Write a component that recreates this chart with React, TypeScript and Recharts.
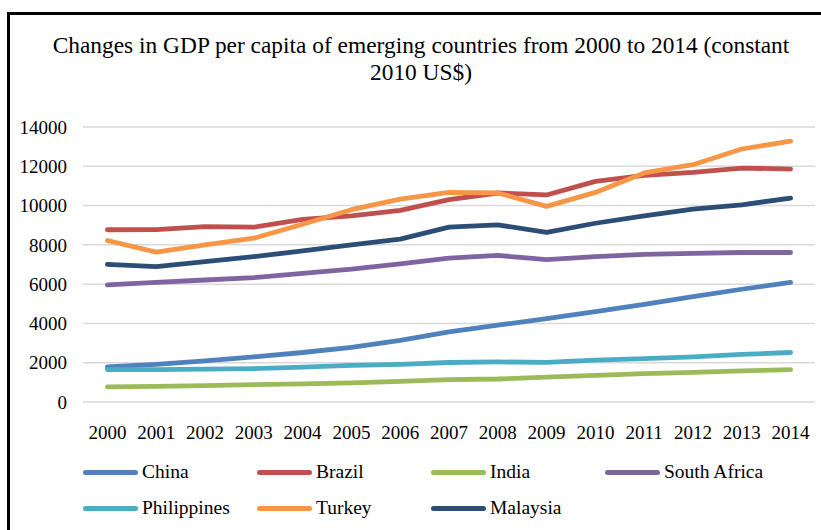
import React from "react";
import { LineChart, Line, XAxis, YAxis, CartesianGrid } from "recharts";

const years = [
  "2000", "2001", "2002", "2003", "2004", "2005", "2006", "2007",
  "2008", "2009", "2010", "2011", "2012", "2013", "2014",
];

const china = [1790, 1920, 2090, 2300, 2520, 2780, 3140, 3570, 3910, 4250, 4600, 4970, 5360, 5740, 6090];
const brazil = [8770, 8780, 8930, 8900, 9300, 9480, 9760, 10300, 10640, 10540, 11230, 11540, 11690, 11910, 11860];
const india = [770, 800, 830, 880, 920, 970, 1050, 1140, 1170, 1270, 1360, 1440, 1510, 1580, 1650];
const southAfrica = [5960, 6090, 6210, 6330, 6550, 6760, 7030, 7320, 7460, 7250, 7400, 7520, 7570, 7610, 7610];
const philippines = [1650, 1650, 1670, 1700, 1780, 1860, 1920, 2010, 2040, 2020, 2130, 2210, 2300, 2420, 2520];
const turkey = [8220, 7630, 8000, 8340, 9050, 9790, 10330, 10670, 10640, 9960, 10670, 11660, 12080, 12880, 13280];
const malaysia = [7010, 6890, 7150, 7400, 7690, 8000, 8290, 8900, 9020, 8630, 9100, 9480, 9820, 10040, 10380];

const yTicks = [0, 2000, 4000, 6000, 8000, 10000, 12000, 14000];

const series = [
  { key: "China", values: china, color: "#4f81bd" },
  { key: "Brazil", values: brazil, color: "#c0504d" },
  { key: "India", values: india, color: "#9bbb59" },
  { key: "South Africa", values: southAfrica, color: "#8064a2" },
  { key: "Philippines", values: philippines, color: "#4bacc6" },
  { key: "Turkey", values: turkey, color: "#f79646" },
  { key: "Malaysia", values: malaysia, color: "#2c4d75" },
];

const data = years.map((year, i) => {
  const row: Record<string, string | number> = { year };
  series.forEach((s) => {
    row[s.key] = s.values[i];
  });
  return row;
});

const FONT = '"Liberation Serif", "Times New Roman", serif';

export default function App() {
  return (
    <div
      style={{
        position: "absolute",
        left: 0,
        top: 0,
        width: 821,
        height: 530,
        overflow: "hidden",
        background: "#fff",
        fontFamily: FONT,
      }}
    >
      {/* frame, only left and top edges show in the crop */}
      <div
        style={{
          position: "absolute",
          left: 7,
          top: 12,
          width: 900,
          height: 600,
          borderLeft: "3px solid #000",
          borderTop: "3px solid #000",
        }}
      />
      <div
        style={{
          position: "absolute",
          left: 0,
          top: 32,
          width: 842,
          textAlign: "center",
          fontSize: 23.4,
          lineHeight: "27px",
          color: "#000",
        }}
      >
        <div>Changes in GDP per capita of emerging countries from 2000 to 2014 (constant</div>
        <div>2010 US$)</div>
      </div>
      <LineChart
        width={821}
        height={530}
        data={data}
        margin={{ top: 127, right: 6, bottom: 98, left: 0 }}
        style={{ position: "absolute", left: 0, top: 0 }}
      >
        <CartesianGrid vertical={false} stroke="#d9d9d9" strokeWidth={1.5} />
        <XAxis
          dataKey="year"
          height={30}
          padding={{ left: 24.4, right: 24.4 }}
          axisLine={false}
          tickLine={false}
          tickSize={8}
          tickMargin={16}
          interval={0}
          tick={{ fontSize: 19, fill: "#000", fontFamily: FONT }}
        />
        <YAxis
          width={83}
          domain={[0, 14000]}
          ticks={yTicks}
          axisLine={false}
          tickLine={false}
          tickSize={8}
          tickMargin={8}
          tick={{ fontSize: 19, fill: "#000", fontFamily: FONT }}
        />
        {series.map((s) => (
          <Line
            key={s.key}
            type="linear"
            dataKey={s.key}
            stroke={s.color}
            strokeWidth={4.8}
            strokeLinecap="round"
            strokeLinejoin="round"
            dot={false}
            isAnimationActive={false}
          />
        ))}
      </LineChart>
      {series.map((s, i) => {
        const col = i % 4;
        const row = Math.floor(i / 4);
        const left = 83 + col * 174;
        const cy = 472 + row * 36;
        return (
          <div key={s.key} style={{ position: "absolute", left, top: cy - 14, height: 28, display: "flex", alignItems: "center" }}>
            <div style={{ width: 55, height: 5, borderRadius: 3, background: s.color }} />
            <span style={{ marginLeft: 4, fontSize: 19.5, color: "#000" }}>{s.key}</span>
          </div>
        );
      })}
    </div>
  );
}
